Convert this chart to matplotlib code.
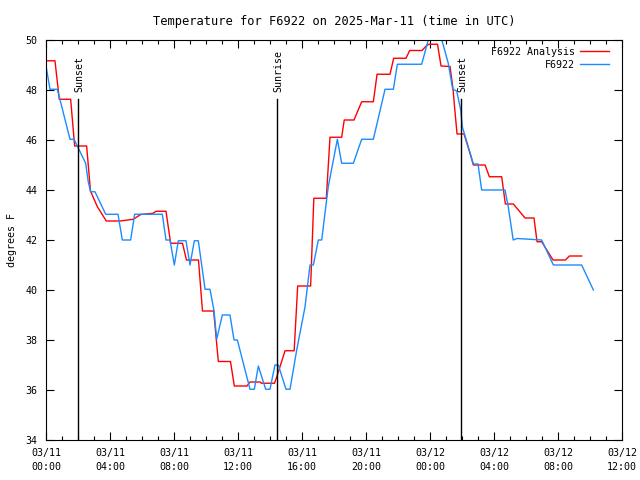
import matplotlib.pyplot as plt

# hours since 2025-03-11 00:00 UTC
analysis_hours = [0.0, 0.56, 0.83, 1.54, 1.79, 2.54, 2.78, 3.21, 3.77, 4.63, 5.46, 5.92,
                  6.69, 6.88, 7.5, 7.79, 8.53, 8.78, 9.53, 9.78, 10.48, 10.77, 11.53, 11.77,
                  12.56, 12.75, 13.38, 13.47, 14.28, 14.42, 14.94, 15.51, 15.73, 16.54, 16.74,
                  17.52, 17.75, 18.48, 18.64, 19.25, 19.73, 20.46, 20.69, 21.5, 21.73, 22.5,
                  22.73, 23.5, 23.79, 23.94, 24.47, 24.69, 25.25, 25.44, 25.53, 25.69, 26.13,
                  26.5, 26.71, 27.44, 27.71, 28.48, 28.71, 29.21, 29.94, 30.5, 30.69, 30.98,
                  31.69, 32.47, 32.71, 33.48]
analysis_temps = [49.17, 49.17, 47.63, 47.63, 45.76, 45.76, 43.96, 43.33, 42.76, 42.76, 42.83, 43.02,
                  43.07, 43.15, 43.15, 41.87, 41.87, 41.2, 41.2, 39.16, 39.16, 37.14, 37.14, 36.16,
                  36.16, 36.32, 36.32, 36.27, 36.27, 36.52, 37.57, 37.57, 40.16, 40.16, 43.67,
                  43.67, 46.11, 46.11, 46.8, 46.8, 47.53, 47.53, 48.63, 48.63, 49.27, 49.27,
                  49.58, 49.58, 49.78, 49.83, 49.83, 48.96, 48.94, 48.04, 47.36, 46.24, 46.24,
                  45.47, 45.0, 45.0, 44.53, 44.53, 43.44, 43.44, 42.88, 42.88, 41.93, 41.93,
                  41.2, 41.2, 41.36, 41.36]

obs_hours = [0.0, 0.25, 0.71, 1.5, 1.75, 2.48, 2.64, 2.79, 3.06, 3.73, 4.5, 4.77, 5.29, 5.54,
             7.27, 7.5, 7.75, 8.02, 8.27, 8.75, 9.0, 9.27, 9.52, 9.94, 10.25, 10.5, 10.67,
             11.02, 11.5, 11.75, 11.96, 12.75, 13.02, 13.27, 13.73, 14.0, 14.31, 14.52, 15.0,
             15.25, 15.67, 16.19, 16.5, 16.71, 17.02, 17.23, 17.64, 18.21, 18.48, 19.21, 19.73,
             20.46, 21.19, 21.71, 21.96, 23.48, 24.31, 25.14, 25.42, 25.67, 25.92, 26.02,
             26.71, 27.0, 27.23, 28.69, 28.89, 29.2, 29.44, 30.98, 31.71, 33.48, 34.21]
obs_temps = [48.96, 48.03, 48.03, 46.03, 46.03, 45.07, 44.33, 43.93, 43.93, 43.03, 43.03, 42.0, 42.0, 43.03,
             43.03, 42.0, 42.0, 41.0, 41.97, 41.97, 41.0, 41.97, 41.97, 40.03, 40.03, 39.17, 38.03,
             39.0, 39.0, 38.0, 38.0, 36.03, 36.03, 36.96, 36.03, 36.03, 37.0, 37.0, 36.03,
             36.03, 37.6, 39.33, 41.0, 41.0, 42.0, 42.0, 44.13, 46.03, 45.07, 45.07, 46.03,
             46.03, 48.03, 48.03, 49.03, 49.03, 51.0, 49.07, 48.03, 47.96, 47.2, 46.53,
             45.04, 45.04, 44.0, 44.0, 43.33, 42.0, 42.06, 42.0, 41.0, 41.0, 40.0]

events = ['Sunset', 'Sunrise', 'Sunset']
event_hours = [2.0, 14.44, 25.94]

tick_hours = [0, 4, 8, 12, 16, 20, 24, 28, 32, 36]
tick_labels = ['03/11\n00:00', '03/11\n04:00', '03/11\n08:00', '03/11\n12:00', '03/11\n16:00',
               '03/11\n20:00', '03/12\n00:00', '03/12\n04:00', '03/12\n08:00', '03/12\n12:00']

plt.rcParams['font.family'] = 'DejaVu Sans Mono'
plt.rcParams['font.size'] = 7.2

fig = plt.figure(figsize=(6.4, 4.8), dpi=100)
ax = fig.add_axes([46 / 640, 40 / 480, 576 / 640, 400 / 480])

ax.plot(analysis_hours, analysis_temps, color='#ff0000', lw=1, label='F6922 Analysis')
ax.plot(obs_hours, obs_temps, color='#1a8cff', lw=1, label='F6922')

for name, h in zip(events, event_hours):
    ax.plot([h, h], [34, 47.64], color='black', lw=1)
    ax.text(h + 0.08, 47.9, name, rotation=90, ha='center', va='bottom')

ax.set_xlim(0, 36)
ax.set_ylim(34, 50)
ax.set_xticks(tick_hours)
ax.set_xticklabels(tick_labels, linespacing=1.45)
ax.set_xticks(range(0, 37), minor=True)
ax.set_yticks(range(34, 51, 2))
ax.tick_params(direction='in', top=True, right=True, length=6, width=0.8, pad=6)
ax.tick_params(which='minor', direction='in', top=True, bottom=True, length=3, width=0.8)
for s in ax.spines.values():
    s.set_linewidth(0.8)

ax.set_title('Temperature for F6922 on 2025-Mar-11 (time in UTC)', pad=11)
ax.set_ylabel('degrees F', labelpad=6)

ax.legend(loc='upper right', bbox_to_anchor=(0.984, 0.9925), borderaxespad=0,
          frameon=False, markerfirst=False, handlelength=2.9,
          handletextpad=0.5, labelspacing=0.28)

fig.savefig('out.png', dpi=100)
